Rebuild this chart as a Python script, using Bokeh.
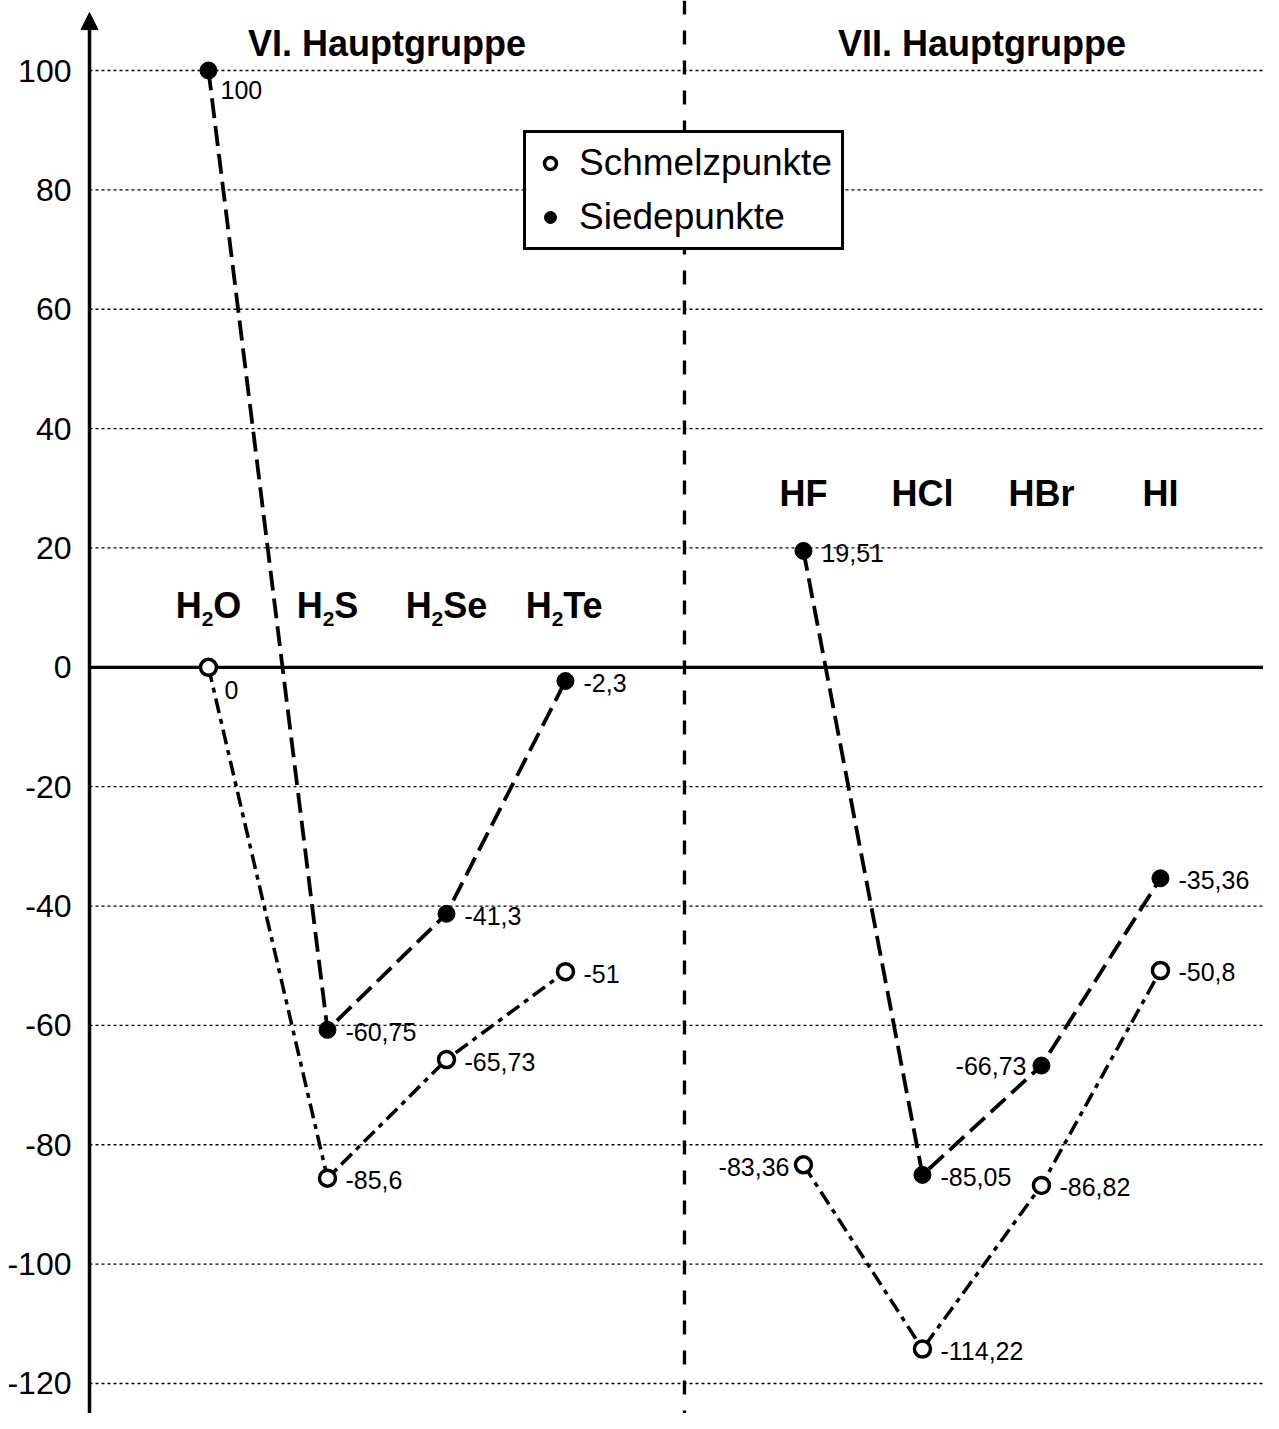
from bokeh.plotting import figure
from bokeh.models import (FixedTicker, Span, Arrow, NormalHead, Legend, LegendItem,
                          ColumnDataSource)
from bokeh.core.properties import value
from bokeh.embed import file_html
from bokeh.resources import INLINE

# ---------------- data ----------------
compounds = ["H₂O", "H₂S", "H₂Se", "H₂Te", "HF", "HCl", "HBr", "HI"]
groups = ["VI. Hauptgruppe", "VII. Hauptgruppe"]
melting = [0, -85.6, -65.73, -51, -83.36, -114.22, -86.82, -50.8]
boiling = [100, -60.75, -41.3, -2.3, 19.51, -85.05, -66.73, -35.36]
melting_labels = ["0", "-85,6", "-65,73", "-51", "-83,36", "-114,22", "-86,82", "-50,8"]
boiling_labels = ["100", "-60,75", "-41,3", "-2,3", "19,51", "-85,05", "-66,73", "-35,36"]
y_ticks = [-120, -100, -80, -60, -40, -20, 0, 20, 40, 60, 80, 100]
series_names = ["Schmelzpunkte", "Siedepunkte"]

# ---------------- layout ----------------
n_per_group = 4
xs = [i + 1 + i // n_per_group for i in range(len(compounds))]   # slot positions, gap at 5
divider_x = n_per_group + 1
X0, X1 = -0.0756, 9.866
Y1 = 111.73
Y0 = -125.03
FONT = "Liberation Sans"

p = figure(width=1263, height=1413, x_range=(X0, X1), y_range=(Y0, Y1),
           output_backend="svg", toolbar_location=None, x_axis_type=None,
           min_border_left=80, min_border_right=0, min_border_top=0, min_border_bottom=0)
p.outline_line_color = None
p.grid.visible = False
p.background_fill_color = "white"

ax = p.yaxis[0]
ax.ticker = FixedTicker(ticks=y_ticks)
ax.major_label_overrides = {t: str(t) for t in y_ticks}
ax.axis_line_color = None
ax.major_tick_line_color = None
ax.minor_tick_line_color = None
ax.major_label_text_font_size = "32px"
ax.major_label_text_font = FONT
ax.major_label_text_color = "black"
ax.major_label_standoff = 3

# grid lines (dotted) and zero line (solid)
grid_ticks = [t for t in y_ticks if t != 0]
p.segment(x0=[0] * len(grid_ticks), y0=grid_ticks, x1=[X1] * len(grid_ticks), y1=grid_ticks,
          line_color="black", line_width=1.3, line_dash="3 3")
p.segment(x0=[0], y0=[0], x1=[X1], y1=[0], line_color="black", line_width=3.3)

# vertical divider
p.add_layout(Span(location=divider_x, dimension="height", line_color="black",
                  line_width=3.3, line_dash="14 16"))

# y axis with arrow
p.add_layout(Arrow(end=NormalHead(size=17, fill_color="black", line_color="black"),
                   x_start=0, y_start=Y0, x_end=0, y_end=109.7,
                   line_color="black", line_width=3.5))

# connecting lines per group
for g in range(len(groups)):
    sl = slice(g * n_per_group, (g + 1) * n_per_group)
    p.line(xs[sl], boiling[sl], line_color="black", line_width=3.8, line_dash="20 8")
    p.line(xs[sl], melting[sl], line_color="black", line_width=3.5, line_dash="15 6 5 6")

melt_r = p.scatter(xs, melting, size=16, fill_color="white", line_color="black", line_width=3.5)
boil_r = p.scatter(xs, boiling, size=17, fill_color="black", line_color="black", line_width=1)

# value labels
lab_x, lab_y, lab_t, lab_al, lab_bl, lab_dx, lab_dy = [], [], [], [], [], [], []
special = {("b", 0): ("left", "top", 12, 10),
           ("m", 0): ("left", "top", 16, 14),
           ("m", 4): ("right", "middle", -14, 2),
           ("b", 6): ("right", "middle", -15, 0)}
for key, vals, labs in (("m", melting, melting_labels), ("b", boiling, boiling_labels)):
    for i in range(len(vals)):
        al, bl, dx, dy = special.get((key, i), ("left", "middle", 18, 2))
        lab_x.append(xs[i]); lab_y.append(vals[i]); lab_t.append(labs[i])
        lab_al.append(al); lab_bl.append(bl); lab_dx.append(dx); lab_dy.append(dy)
src = ColumnDataSource(dict(x=lab_x, y=lab_y, t=lab_t, al=lab_al, bl=lab_bl, dx=lab_dx, dy=lab_dy))
p.text(x="x", y="y", text="t", text_align="al", text_baseline="bl", x_offset="dx", y_offset="dy",
       source=src, text_font=value(FONT), text_font_size="25px", text_color="black")

# compound labels with real subscripts (Arial/Liberation Sans Bold advance widths)
BOLD_W = {"H": 722, "O": 778, "S": 667, "e": 556, "T": 611, "2": 556, "F": 611,
          "C": 722, "l": 278, "B": 722, "r": 389, "I": 278}
MAIN, SUB, SUB_DROP = 36, 21, 13


def wid(s, size):
    return sum(BOLD_W.get(c, 600) for c in s) * size / 1000.0


cx, cy, ct, cdx, cdy, cfs = [], [], [], [], [], []
for i, name in enumerate(compounds):
    mid_y = 10.3 if i < n_per_group else 29.2
    if "₂" in name:
        a, b = name.split("₂")
        pieces = [(a, MAIN, 0), ("2", SUB, SUB_DROP), (b, MAIN, 0)]
    else:
        pieces = [(name, MAIN, 0)]
    total = sum(wid(s, fs) for s, fs, _ in pieces)
    off = -total / 2.0
    for s, fs, dy in pieces:
        cx.append(xs[i]); cy.append(mid_y); ct.append(s)
        cdx.append(off); cdy.append(dy); cfs.append(f"{fs}px")
        off += wid(s, fs)
csrc = ColumnDataSource(dict(x=cx, y=cy, t=ct, dx=cdx, dy=cdy, fs=cfs))
p.text(x="x", y="y", text="t", x_offset="dx", y_offset="dy", text_font_size="fs",
       source=csrc, text_align="left", text_baseline="middle", text_font=value(FONT),
       text_font_style="bold", text_color="black")

# group titles
p.text(x=[(xs[0] + xs[n_per_group - 1]) / 2, (xs[n_per_group] + xs[-1]) / 2], y=[104.6, 104.6],
       text=groups, text_align="center", text_baseline="middle", text_font=value(FONT),
       text_font_style="bold", text_font_size="36px", text_color="black")

legend = Legend(items=[LegendItem(label=series_names[0], renderers=[melt_r]),
                       LegendItem(label=series_names[1], renderers=[boil_r])],
                location=(443, 1163), border_line_color="black", border_line_width=3,
                border_line_alpha=1, background_fill_color="white", background_fill_alpha=1,
                label_text_font=FONT, label_text_font_size="37px", label_text_color="black",
                glyph_width=30, glyph_height=30, padding=9, spacing=12, label_standoff=14,
                margin=0)
p.add_layout(legend)

open("out.html", "w").write(file_html(p, INLINE))
